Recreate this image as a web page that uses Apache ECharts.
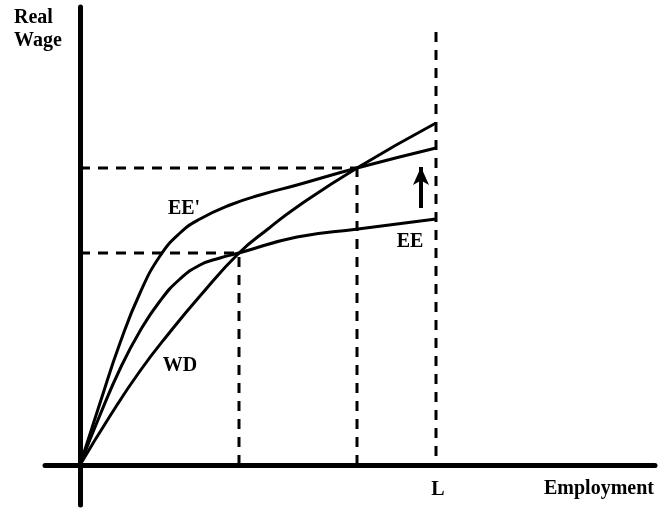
<!DOCTYPE html>
<html>
<head>
<meta charset="utf-8">
<script src="https://cdn.jsdelivr.net/npm/echarts@6/dist/echarts.min.js"></script>
<style>
html, body { margin: 0; padding: 0; background: #fff; }
#main { width: 660px; height: 508px; }
</style>
</head>
<body>
<div id="main"></div>
<script>
// 曲线数据 (employment, real wage)
var wdData = [[0,0],[3,4.9],[6,9.4],[9,13.3],[12,16.9],[15.9,21.2],[18.8,23.6],[21.7,25.8],[27.7,29.7],[35.6,34.2]];
var eeData = [[0,0],[2,5.0],[4,9.6],[6,13.4],[8,16.4],[10,18.6],[12,20.0],[14,20.7],[15.9,21.2],[21.7,22.8],[27.8,23.6],[35.6,24.6]];
var ee2Data = [[0,0],[2,6.2],[4,12.2],[6,17.2],[8,20.9],[10,23.2],[12,24.6],[15,26.0],[18,27.0],[21.7,28.0],[27.7,29.7],[35.6,31.7]];

// 均衡点与充分就业
var eqPoints = [[15.9, 21.2], [27.7, 29.7]];
var fullEmp = 35.6;
var fullEmpTop = 43.3;
var arrowFrom = [34.1, 25.7];
var arrowTo = [34.1, 29.8];

// 曲线标签
var curveLabels = [
    {name: "EE'", value: [10.4, 25.6]},
    {name: 'WD', value: [10.0, 9.9]},
    {name: 'EE', value: [33.0, 22.3]},
    {name: 'L', value: [35.8, -2.5]}
];

var fontFamily = '"Liberation Serif", "Times New Roman", serif';
var dashStyle = {color: '#000', width: 3, type: [10, 8]};
var curveStyle = {color: '#000', width: 3};

var chart = echarts.init(document.getElementById('main'));

var series = [];
// 虚线
for (var i = 0; i < eqPoints.length; i++) {
    var p = eqPoints[i];
    series.push({type: 'line', data: [[0, p[1]], [p[0], p[1]]], symbol: 'none', lineStyle: dashStyle, silent: true});
    series.push({type: 'line', data: [[p[0], 0], [p[0], p[1]]], symbol: 'none', lineStyle: dashStyle, silent: true});
}
series.push({type: 'line', data: [[fullEmp, fullEmpTop], [fullEmp, 0]], symbol: 'none', lineStyle: dashStyle, silent: true});

// 三条曲线
[wdData, eeData, ee2Data].forEach(function (d) {
    series.push({type: 'line', data: d, symbol: 'none', smooth: 0.5, lineStyle: curveStyle, silent: true});
});

// 箭头
series.push({
    type: 'line', data: [], symbol: 'none',
    markLine: {
        silent: true,
        symbol: ['none', 'arrow'],
        symbolSize: [12, 18],
        label: {show: false},
        lineStyle: {color: '#000', width: 4, type: 'solid'},
        data: [[{coord: arrowFrom}, {coord: arrowTo}]]
    }
});

// 标签
series.push({
    type: 'scatter', data: curveLabels, symbolSize: 0, silent: true,
    itemStyle: {opacity: 1},
    label: {
        show: true, position: 'inside',
        formatter: function (p) { return p.name; },
        fontFamily: fontFamily, fontWeight: 'bold', fontSize: 20,
        color: '#000', textBorderWidth: 0
    }
});

var option = {
    animation: false,
    grid: {left: 45, right: 5, top: 7, bottom: 3},
    xAxis: {
        type: 'value', min: -3.5, max: 57.5,
        axisLine: {onZero: true, lineStyle: {color: '#000', width: 5, cap: 'round'}},
        axisTick: {show: false}, axisLabel: {show: false}, splitLine: {show: false}
    },
    yAxis: {
        type: 'value', min: -4, max: 45.8,
        axisLine: {onZero: true, lineStyle: {color: '#000', width: 5, cap: 'round'}},
        axisTick: {show: false}, axisLabel: {show: false}, splitLine: {show: false}
    },
    graphic: [
        {type: 'text', left: 14, top: 6, style: {text: 'Real\nWage', font: 'bold 20px "Liberation Serif", serif', lineHeight: 23, fill: '#000'}},
        {type: 'text', left: 544, top: 479, style: {text: 'Employment', font: 'bold 20px "Liberation Serif", serif', fill: '#000'}}
    ],
    series: series
};

chart.setOption(option);
</script>
</body>
</html>
